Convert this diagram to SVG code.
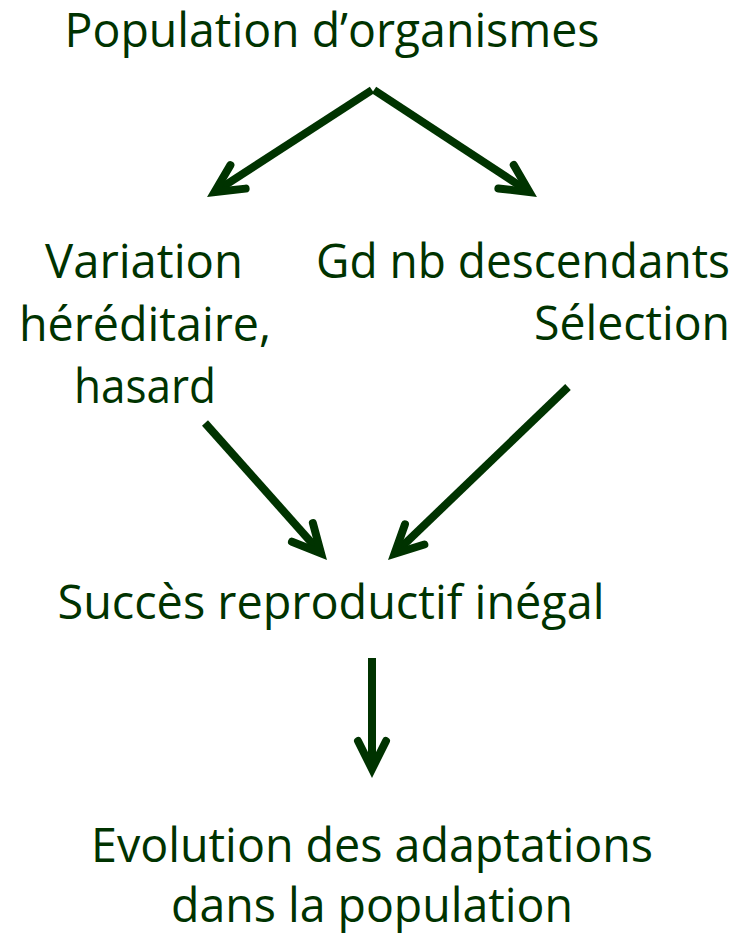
<svg xmlns="http://www.w3.org/2000/svg" width="747" height="935" viewBox="0 0 747 935">
  <style>
    .t { font-family: "Open Sans", "Liberation Sans", sans-serif; font-size: 48px; fill: #003300; }
    .c { stroke: #003300; stroke-width: 8; fill: none; }
  </style>
  <defs>
    <marker id="ah" markerUnits="userSpaceOnUse" orient="auto" markerWidth="80" markerHeight="80" refX="0" refY="0" viewBox="-40 -40 80 80" overflow="visible">
      <path d="M-26,-14 L2,0 L-26,14" stroke="#003300" stroke-width="8" fill="none" stroke-linejoin="miter" stroke-miterlimit="10" stroke-linecap="round"/>
    </marker>
  </defs>
  <rect width="747" height="935" fill="#ffffff"/>
  <g id="population">
    <text class="t" x="332" y="47" text-anchor="middle" textLength="535" lengthAdjust="spacingAndGlyphs">Population d’organismes</text>
  </g>
  <g id="variation">
    <text class="t" x="144" y="278" text-anchor="middle" textLength="198" lengthAdjust="spacingAndGlyphs">Variation</text>
    <text class="t" x="145" y="341" text-anchor="middle" textLength="252" lengthAdjust="spacingAndGlyphs">héréditaire,</text>
    <text class="t" x="145" y="403" text-anchor="middle" textLength="142" lengthAdjust="spacingAndGlyphs">hasard</text>
  </g>
  <g id="selection">
    <text class="t" x="730" y="278" text-anchor="end" textLength="414" lengthAdjust="spacingAndGlyphs">Gd nb descendants</text>
    <text class="t" x="730" y="340" text-anchor="end" textLength="196" lengthAdjust="spacingAndGlyphs">Sélection</text>
  </g>
  <g id="succes">
    <text class="t" x="331" y="619" text-anchor="middle" textLength="547" lengthAdjust="spacingAndGlyphs">Succès reproductif inégal</text>
  </g>
  <g id="evolution">
    <text class="t" x="372" y="862" text-anchor="middle" textLength="562" lengthAdjust="spacingAndGlyphs">Evolution des adaptations</text>
    <text class="t" x="372" y="922" text-anchor="middle" textLength="402" lengthAdjust="spacingAndGlyphs">dans la population</text>
  </g>
  <g id="connectors">
    <line class="c" x1="372" y1="90" x2="216.2" y2="191" marker-end="url(#ah)"/>
    <line class="c" x1="374" y1="90" x2="527.8" y2="191" marker-end="url(#ah)"/>
    <line class="c" x1="205" y1="423" x2="319.7" y2="551.8" marker-end="url(#ah)"/>
    <line class="c" x1="568" y1="387" x2="395.9" y2="552.4" marker-end="url(#ah)"/>
    <line class="c" x1="372" y1="658" x2="372" y2="767" marker-end="url(#ah)"/>
  </g>
</svg>
